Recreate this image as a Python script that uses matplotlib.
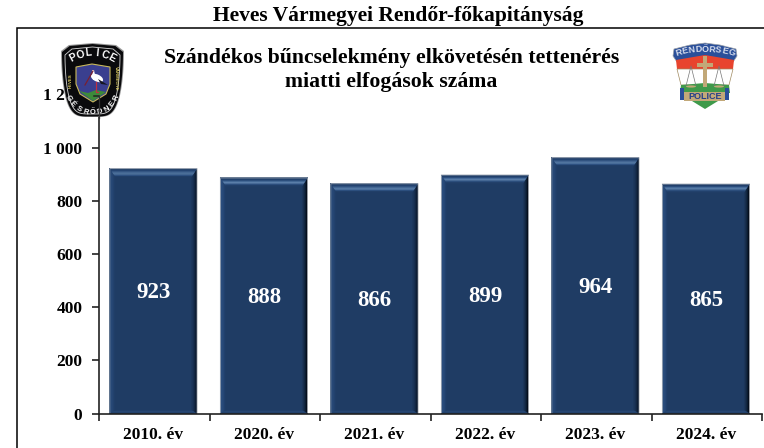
import numpy as np
import matplotlib
matplotlib.use("Agg")
import matplotlib.pyplot as plt
from matplotlib.patches import Polygon, Ellipse

plt.rcParams['font.family'] = ['Liberation Serif', 'DejaVu Serif']
plt.rcParams['font.weight'] = 'bold'

# adatok
years = ["2010. év", "2020. év", "2021. év", "2022. év", "2023. év", "2024. év"]
values = [923, 888, 866, 899, 964, 865]
y_ticks = [0, 200, 400, 600, 800, 1000, 1200]
y_labels = ["0", "200", "400", "600", "800", "1 000", "1 200"]
header = "Heves Vármegyei Rendőr-főkapitányság"
title = "Szándékos bűncselekmény elkövetésén tettenérés\nmiatti elfogások száma"

W, H = 764, 448
fig = plt.figure(figsize=(W / 100, H / 100), dpi=100)
ax = fig.add_axes([99 / W, (H - 413.5) / H, 663 / W, 319 / H])
ax.set_xlim(-0.5, 5.5)
ax.set_ylim(0, 1200)

bar_w = 88 / 110.5
px_x = 6 / 663      # 1 pixel adatban
px_y = 1200 / 319
shift = -0.8 * px_x   # az oszlopok kicsit balra csusznak a kategoria kozepetol
pos = np.arange(len(values)) + shift

# oszlopok
ax.bar(pos, values, width=bar_w, color="#1f3c64", edgecolor="none", zorder=2)


def bevel(xc, val):
    x0, x1 = xc - bar_w / 2, xc + bar_w / 2
    dx, dy = 6 * px_x, 9 * px_y

    def trap(a, b, side):
        # a..b: a perem resze (0 = kulso szel, 1 = belso szel)
        if side == "top":
            return [(x0 + a * dx, val - a * dy), (x1 - a * dx, val - a * dy),
                    (x1 - b * dx, val - b * dy), (x0 + b * dx, val - b * dy)]
        if side == "right":
            return [(x1 - a * dx, val - a * dy), (x1 - a * dx, a * dy * 0.4),
                    (x1 - b * dx, b * dy * 0.4), (x1 - b * dx, val - b * dy)]
        if side == "left":
            return [(x0 + a * dx, val - a * dy), (x0 + a * dx, a * dy * 0.4),
                    (x0 + b * dx, b * dy * 0.4), (x0 + b * dx, val - b * dy)]
        return [(x0 + a * dx, a * dy * 0.4), (x1 - a * dx, a * dy * 0.4),
                (x1 - b * dx, b * dy * 0.4), (x0 + b * dx, b * dy * 0.4)]

    top_cols = ["#aab2bd", "#1f3e68", "#2a4c7c", "#456a98", "#5a7ea9", "#4a6e9b", "#2d5080", "#213f69"]
    right_cols = ["#a0a4aa", "#040c18", "#0a1a30", "#12263f", "#172e4f", "#1c3659"]
    left_cols = ["#98a4b3", "#2c4f80", "#2a4c7c", "#274876", "#23426e", "#203e67"]
    bottom_cols = ["#1a3357", "#24446f", "#2a4c7a", "#274773", "#213f69"]
    for cols, side in ((bottom_cols, "bottom"), (left_cols, "left"), (right_cols, "right"), (top_cols, "top")):
        edges = np.linspace(0, 1, len(cols) + 1)
        for i, c in enumerate(cols):
            ax.add_patch(Polygon(trap(edges[i], edges[i + 1], side), closed=True,
                                 fc=c, ec="none", zorder=3))


for x, v in zip(pos, values):
    bevel(x, v)
    ax.annotate(str(v), (x, v / 2), xytext=(0, -1.5), textcoords="offset points",
                color="white", fontsize=16.5, fontweight="bold",
                ha="center", va="center", zorder=5)

# tengelyek
for s in ("top", "right"):
    ax.spines[s].set_visible(False)
for s in ("left", "bottom"):
    ax.spines[s].set_linewidth(1.2)
    ax.spines[s].set_color("#222222")
    ax.spines[s].set_zorder(4)
ax.set_yticks(y_ticks)
ax.set_yticklabels(y_labels, fontsize=12.5, fontweight="bold")
ax.set_xticks(pos)
ax.set_xticklabels(years, fontsize=12.5, fontweight="bold")
ax.set_xticks(np.arange(-0.5, 6, 1), minor=True)
ax.tick_params(axis="x", which="major", length=0, pad=10)
ax.tick_params(axis="x", which="minor", length=5, width=1.2, color="#222222")
ax.tick_params(axis="y", length=5, width=1.2, color="#222222", pad=7)

# keret es cimek, pixelben
ov = fig.add_axes([0, 0, 1, 1], facecolor="none")
ov.set_xlim(0, W)
ov.set_ylim(H, 0)
ov.axis("off")
ov.plot([17, 17, W], [H, 28, 28], color="black", lw=1.1, solid_joinstyle="miter")
ov.text(398, 16.5, header, fontsize=15.5, ha="center", va="center", fontweight="bold")
ov.text(391.5, 70, title, fontsize=15.7, ha="center", va="center", fontweight="bold",
        linespacing=1.32)


def arc_text(word, cx, cy, r, a0, a1, bottom=False, **kw):
    # betunkent korivre irt felirat
    for ch, a in zip(word, np.linspace(a0, a1, len(word))):
        t = np.radians(a)
        if bottom:
            ov.text(cx + r * np.sin(t), cy + r * np.cos(t), ch, rotation=a,
                    ha="center", va="center", family=["Liberation Sans"], **kw)
        else:
            ov.text(cx + r * np.sin(t), cy - r * np.cos(t), ch, rotation=-a,
                    ha="center", va="center", family=["Liberation Sans"], **kw)


# bal oldali cimer
def shield(cx, top, hw, h, n=40):
    t = np.linspace(0, 1, n)
    side = [(cx + hw * np.cos(s * np.pi / 2) ** 0.45, top + 8 + (h - 8) * np.sin(s * np.pi / 2))
            for s in t]
    pts = [(cx - hw * 0.75, top + 2), (cx, top), (cx + hw * 0.75, top + 2), (cx + hw, top + 8)] + side
    pts += [(2 * cx - x, y) for x, y in side[::-1]] + [(cx - hw, top + 8)]
    return pts


cx = 92.5
ov.add_patch(Polygon(shield(cx, 43, 31.5, 74), fc="#9a9a9a", ec="none", zorder=6))
ov.add_patch(Polygon(shield(cx, 44, 30.5, 72.5), fc="#0a0a0c", ec="none", zorder=6))
ov.add_patch(Polygon(shield(cx, 47, 27.5, 67), fc="none", ec="#d8d8d8", lw=0.6, zorder=7))
ov.add_patch(Polygon([(76, 67), (92, 64), (110, 67), (110, 84), (106, 94), (93, 102), (80, 94), (76, 84)],
                     fc="#3a3f8f", ec="#c9b95a", lw=0.8, zorder=7))
ov.add_patch(Polygon([(79, 91), (88, 93), (96, 90), (106, 92), (93, 101)], fc="#3d8a3a", ec="none", zorder=8))
# golya
ov.add_patch(Ellipse((97, 78), 13, 7, angle=25, fc="white", ec="none", zorder=8))
ov.add_patch(Polygon([(94, 70), (92, 70), (93, 80), (96, 80)], fc="white", ec="none", zorder=8))
ov.add_patch(Polygon([(98, 79), (108, 85), (101, 84)], fc="#15151f", ec="none", zorder=9))
ov.plot([85, 93], [85, 71], color="#7a2030", lw=0.9, zorder=8)
ov.plot([96, 96, 98], [82, 92, 92], color="#c03040", lw=0.9, zorder=8)

arc_text("POLICE", cx, 95, 42, -28, 28, color="white", fontsize=7.5, fontweight="bold", zorder=9)
arc_text("RENDŐRSÉG", cx, 87, 26, 66, -66, bottom=True, color="white", fontsize=5.5, fontweight="bold", zorder=9)
ov.text(71, 81, "HEVES", color="#d8c860", fontsize=3.2, rotation=90, ha="center", va="center",
        family=["Liberation Sans"], zorder=9)
ov.text(116, 78, "VÁRMEGYE", color="#d8c860", fontsize=3.2, rotation=-90, ha="center", va="center",
        family=["Liberation Sans"], zorder=9)
# a tengely es az osztasjel atlatszik a cimeren
ov.plot([94, 99], [96, 96], color="#222222", lw=1.1, zorder=10)
ov.plot([99, 99], [96, 118], color="#333333", lw=0.9, zorder=10)

# jobb oldali cimer
ov.add_patch(Polygon([(677, 62), (673, 56), (674, 49), (690, 45), (705, 43), (720, 45), (736, 49), (737, 56), (733, 62)],
                     fc="#2a4f9a", ec="#9aa0a8", lw=0.5, zorder=6))
ov.add_patch(Polygon([(676, 60), (705, 55), (734, 60), (733, 69), (677, 69)], fc="#e8442e", ec="none", zorder=6))
ov.add_patch(Polygon([(677, 69), (733, 69), (729, 85), (681, 85)], fc="white", ec="#a08a60", lw=0.5, zorder=6))
ov.add_patch(Polygon([(680, 93), (681, 85), (705, 83), (729, 85), (730, 93)], fc="#3f9a4a", ec="none", zorder=6))
ov.add_patch(Polygon([(680, 88), (684, 88), (684, 100), (680, 100)], fc="#2a4f9a", ec="none", zorder=6))
ov.add_patch(Polygon([(725, 88), (729, 88), (729, 100), (725, 100)], fc="#2a4f9a", ec="none", zorder=6))
ov.add_patch(Polygon([(684, 92), (725, 92), (725, 101), (684, 101)], fc="#c2a878", ec="none", zorder=7))
ov.add_patch(Polygon([(692, 101), (718, 101), (705, 109)], fc="#3f9a4a", ec="none", zorder=6))
ov.add_patch(Polygon([(703, 56), (707, 56), (707, 87), (703, 87)], fc="#c2a878", ec="none", zorder=8))
ov.add_patch(Polygon([(697, 63), (713, 63), (713, 67), (697, 67)], fc="#c2a878", ec="none", zorder=8))
for side in (-1, 1):
    px = 705 + side * 14
    ov.plot([px - 5, px, px + 5], [86, 66, 86], color="#777777", lw=0.5, zorder=8)
    ov.add_patch(Ellipse((px, 86.5), 10, 2.2, fc="#c2a878", ec="none", zorder=8))
arc_text("RENDŐRSÉG", 705, 142, 93, -16.5, 16.5, color="#d5dcec", fontsize=6.5, zorder=9)
ov.text(705, 96.5, "POLICE", color="#24408a", fontsize=6.5, family=["Liberation Sans"],
        fontweight="bold", ha="center", va="center", zorder=9)

fig.savefig("out.png", dpi=100)
